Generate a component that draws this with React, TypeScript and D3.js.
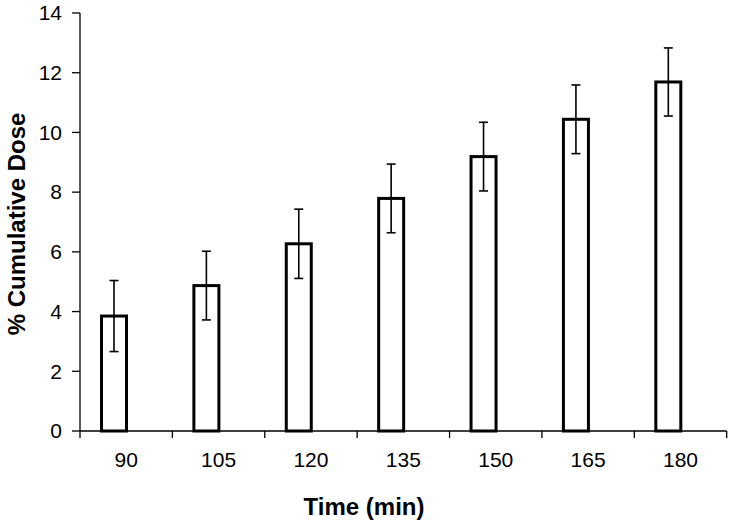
import React from "react";
import * as d3 from "d3";

const categories = ["90", "105", "120", "135", "150", "165", "180"];
const values = [3.85, 4.87, 6.27, 7.79, 9.19, 10.44, 11.69];
const errors = [1.19, 1.15, 1.16, 1.15, 1.15, 1.15, 1.14];
const yTicks = [0, 2, 4, 6, 8, 10, 12, 14];

const W = 731;
const H = 523;
const left = 80;
const right = 726.7;
const top = 13;
const bottom = 431;

export default function App() {
  const x = d3.scaleBand<string>().domain(categories).range([left, right]).padding(0);
  const y = d3.scaleLinear().domain([0, 14]).range([bottom, top]);
  const bw = x.bandwidth();
  const barW = 25;
  const barOffset = 0.368 * bw;
  const font = "Arial, 'Liberation Sans', sans-serif";
  const boundaries = [...categories.map((c) => x(c) as number), right];

  return (
    <svg width={W} height={H} style={{ position: "absolute", left: 0, top: 0, background: "#fff" }}>
      {/* y axis */}
      <line x1={left} x2={left} y1={y(14)} y2={bottom} stroke="#000" strokeWidth={1.3} />
      {yTicks.map((t) => (
        <g key={t}>
          <line x1={left - 8} x2={left} y1={y(t)} y2={y(t)} stroke="#000" strokeWidth={1.3} />
          <text x={62} y={y(t)} dy="0.35em" textAnchor="end" fontFamily={font} fontSize={21} fill="#000">
            {t}
          </text>
        </g>
      ))}
      {/* bars */}
      {categories.map((c, i) => {
        const cx = (x(c) as number) + barOffset;
        return (
          <rect
            key={c}
            x={cx - barW / 2}
            y={y(values[i])}
            width={barW}
            height={bottom - y(values[i])}
            fill="#fff"
            stroke="#000"
            strokeWidth={3}
          />
        );
      })}
      {/* x axis */}
      <line x1={left} x2={right} y1={bottom} y2={bottom} stroke="#000" strokeWidth={1.3} />
      {boundaries.map((b, i) => (
        <line key={i} x1={b} x2={b} y1={bottom} y2={bottom + 7} stroke="#000" strokeWidth={1.3} />
      ))}
      {categories.map((c) => (
        <text
          key={c}
          x={(x(c) as number) + bw / 2}
          y={467}
          textAnchor="middle"
          fontFamily={font}
          fontSize={21}
          fill="#000"
        >
          {c}
        </text>
      ))}
      {/* error bars */}
      {categories.map((c, i) => {
        const cx = (x(c) as number) + barOffset;
        const hi = y(values[i] + errors[i]);
        const lo = y(values[i] - errors[i]);
        return (
          <g key={c} stroke="#000" strokeWidth={1.6}>
            <line x1={cx} x2={cx} y1={hi} y2={lo} />
            <line x1={cx - 4.5} x2={cx + 4.5} y1={hi} y2={hi} />
            <line x1={cx - 4.5} x2={cx + 4.5} y1={lo} y2={lo} />
          </g>
        );
      })}
      {/* titles */}
      <text x={364} y={515} textAnchor="middle" fontFamily={font} fontSize={24} fontWeight="bold" fill="#000">
        Time (min)
      </text>
      <text
        transform={`translate(25, 224) rotate(-90)`}
        textAnchor="middle"
        fontFamily={font}
        fontSize={24}
        fontWeight="bold"
        fill="#000"
      >
        % Cumulative Dose
      </text>
    </svg>
  );
}
